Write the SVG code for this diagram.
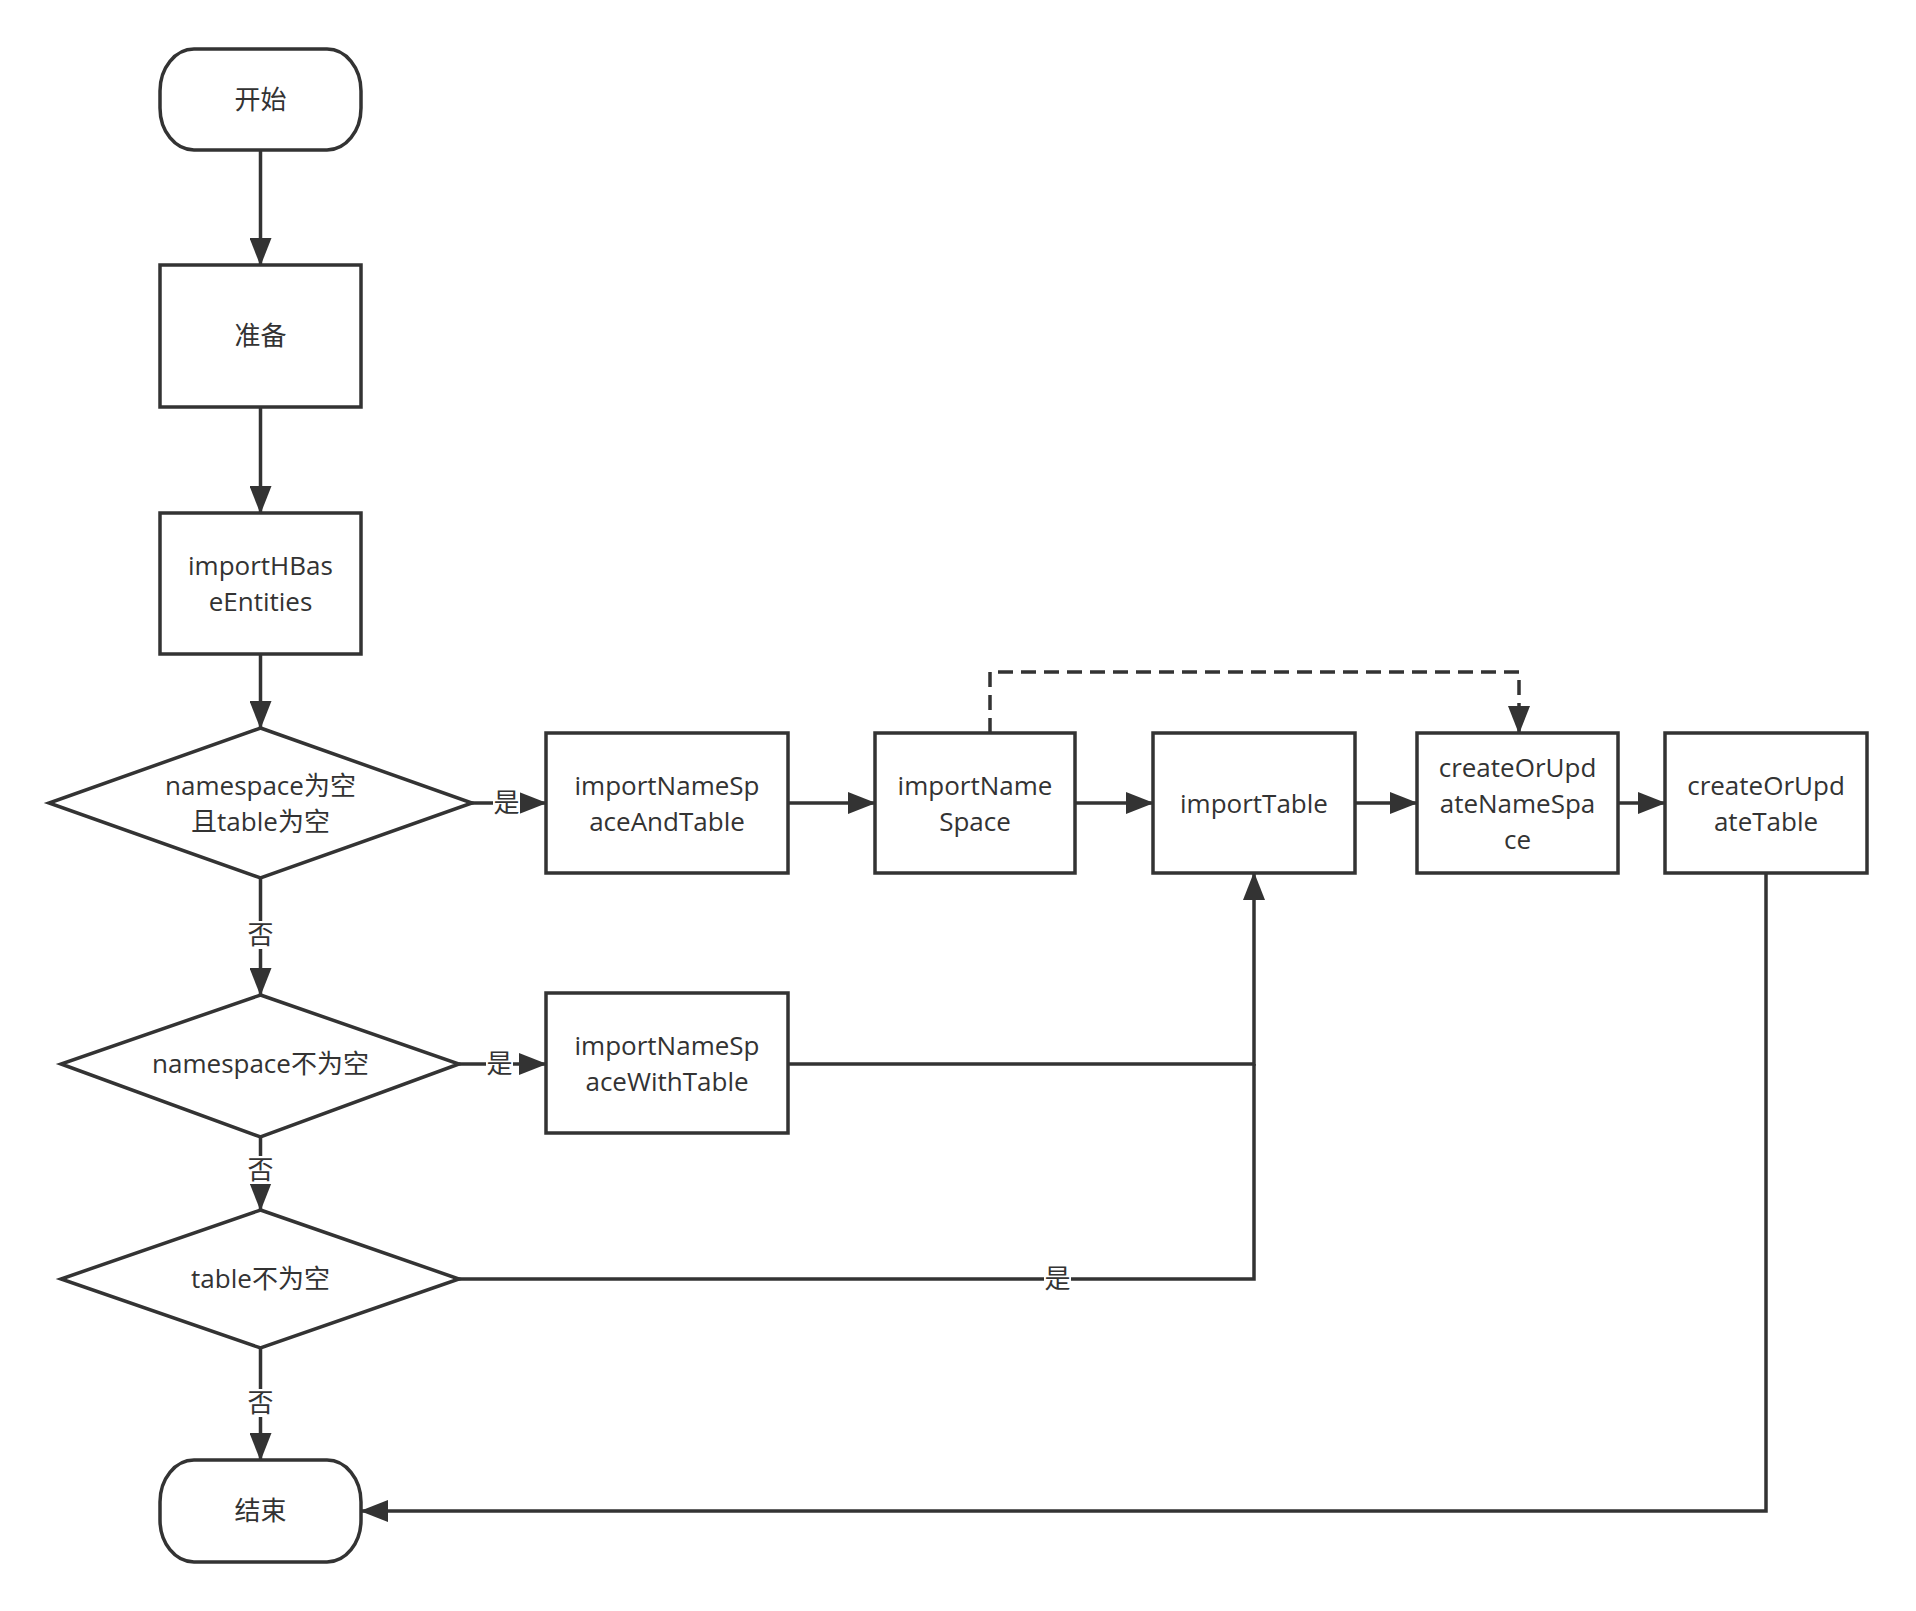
<svg xmlns="http://www.w3.org/2000/svg" width="1916" height="1611" viewBox="0 0 1916 1611">
<defs>
<marker id="arr" markerUnits="userSpaceOnUse" markerWidth="28" markerHeight="22" refX="27" refY="11" orient="auto">
<path d="M0,0 L28,11 L0,22 z" fill="#333"/>
</marker>
</defs>
<style>
.shape{fill:#fff;stroke:#333;stroke-width:3.5}
.conn{fill:none;stroke:#333;stroke-width:3.5}
.dash{stroke-dasharray:15 8}
text{font-family:"Open Sans","Noto Sans CJK SC",sans-serif;font-size:26px;fill:#333;text-anchor:middle}
.lblbg{fill:#fff}
</style>
<rect width="1916" height="1611" fill="#fff"/>
<g id="connectors">
<path class="conn" d="M260.5,150 V265" marker-end="url(#arr)"/>
<path class="conn" d="M260.5,407 V513" marker-end="url(#arr)"/>
<path class="conn" d="M260.5,654 V728" marker-end="url(#arr)"/>
<path class="conn" d="M472,803 H546" marker-end="url(#arr)"/>
<path class="conn" d="M788,803 H875" marker-end="url(#arr)"/>
<path class="conn" d="M1075,803 H1153" marker-end="url(#arr)"/>
<path class="conn" d="M1355,803 H1417" marker-end="url(#arr)"/>
<path class="conn" d="M1618,803 H1665" marker-end="url(#arr)"/>
<path class="conn dash" d="M990,733 V672 H1519 V733" marker-end="url(#arr)"/>
<path class="conn" d="M260.5,878 V995" marker-end="url(#arr)"/>
<path class="conn" d="M459,1064 H546" marker-end="url(#arr)"/>
<path class="conn" d="M788,1064 H1254 V873" marker-end="url(#arr)"/>
<path class="conn" d="M260.5,1137 V1210" marker-end="url(#arr)"/>
<path class="conn" d="M459,1279 H1254 V1064"/>
<path class="conn" d="M260.5,1348 V1460" marker-end="url(#arr)"/>
<path class="conn" d="M1766,873 V1511 H361" marker-end="url(#arr)"/>
<rect class="lblbg" x="493" y="789" width="27" height="28"/>
<text x="506.5" y="812">是</text>
<rect class="lblbg" x="247" y="921" width="27" height="28"/>
<text x="260.5" y="944">否</text>
<rect class="lblbg" x="486" y="1050" width="27" height="28"/>
<text x="499.5" y="1073">是</text>
<rect class="lblbg" x="247" y="1156" width="27" height="28"/>
<text x="260.5" y="1179">否</text>
<rect class="lblbg" x="1044" y="1265" width="27" height="28"/>
<text x="1057.5" y="1288">是</text>
<rect class="lblbg" x="247" y="1389" width="27" height="28"/>
<text x="260.5" y="1412">否</text>
</g>
<g id="start">
<rect class="shape" x="160" y="49" width="201" height="101" rx="34" ry="42"/>
<text x="260.5" y="109">开始</text>
</g>
<g id="prepare">
<rect class="shape" x="160" y="265" width="201" height="142"/>
<text x="260.5" y="345">准备</text>
</g>
<g id="importHBaseEntities">
<rect class="shape" x="160" y="513" width="201" height="141"/>
<text x="260.5" y="575"><tspan x="260.5">importHBas</tspan><tspan x="260.5" dy="36">eEntities</tspan></text>
</g>
<g id="decision1">
<polygon class="shape" points="260.5,728 472,803 260.5,878 49,803"/>
<text x="260.5" y="795"><tspan x="260.5">namespace为空</tspan><tspan x="260.5" dy="36">且table为空</tspan></text>
</g>
<g id="importNameSpaceAndTable">
<rect class="shape" x="546" y="733" width="242" height="140"/>
<text x="667" y="795"><tspan x="667">importNameSp</tspan><tspan x="667" dy="36">aceAndTable</tspan></text>
</g>
<g id="importNameSpace">
<rect class="shape" x="875" y="733" width="200" height="140"/>
<text x="975" y="795"><tspan x="975">importName</tspan><tspan x="975" dy="36">Space</tspan></text>
</g>
<g id="importTable">
<rect class="shape" x="1153" y="733" width="202" height="140"/>
<text x="1254" y="813">importTable</text>
</g>
<g id="createOrUpdateNameSpace">
<rect class="shape" x="1417" y="733" width="201" height="140"/>
<text x="1517.5" y="777"><tspan x="1517.5">createOrUpd</tspan><tspan x="1517.5" dy="36">ateNameSpa</tspan><tspan x="1517.5" dy="36">ce</tspan></text>
</g>
<g id="createOrUpdateTable">
<rect class="shape" x="1665" y="733" width="202" height="140"/>
<text x="1766" y="795"><tspan x="1766">createOrUpd</tspan><tspan x="1766" dy="36">ateTable</tspan></text>
</g>
<g id="decision2">
<polygon class="shape" points="260.5,995 459,1064 260.5,1137 61,1064"/>
<text x="260.5" y="1073">namespace不为空</text>
</g>
<g id="importNameSpaceWithTable">
<rect class="shape" x="546" y="993" width="242" height="140"/>
<text x="667" y="1055"><tspan x="667">importNameSp</tspan><tspan x="667" dy="36">aceWithTable</tspan></text>
</g>
<g id="decision3">
<polygon class="shape" points="260.5,1210 459,1279 260.5,1348 61,1279"/>
<text x="260.5" y="1288">table不为空</text>
</g>
<g id="end">
<rect class="shape" x="160" y="1460" width="201" height="102" rx="34" ry="42"/>
<text x="260.5" y="1520">结束</text>
</g>
</svg>
